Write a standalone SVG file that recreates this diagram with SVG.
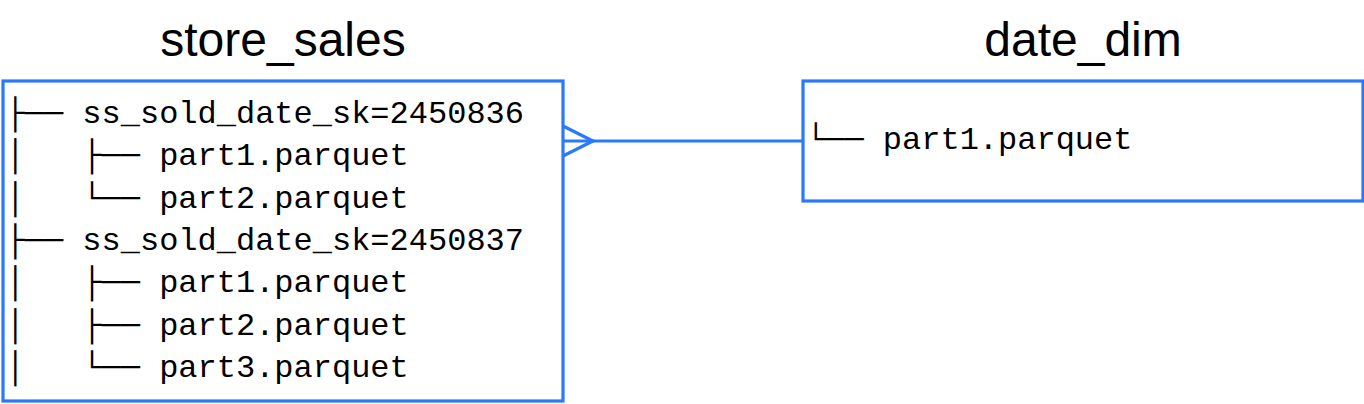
<svg xmlns="http://www.w3.org/2000/svg" width="1364" height="404" viewBox="0 0 1364 404">
<style>
.box{fill:#ffffff;stroke:#2979ff;stroke-width:3.2}
.title{font-family:"Liberation Sans",Arial,sans-serif;font-size:48px;fill:#000;text-anchor:middle}
.tree{font-family:"Liberation Mono","DejaVu Sans Mono",monospace;font-size:32px;fill:#000;white-space:pre}
.conn{fill:none;stroke:#2979ff;stroke-width:3.2}
</style>
<rect width="1364" height="404" fill="#ffffff"/>
<g id="store_sales">
<text class="title" x="283" y="56">store_sales</text>
<rect class="box" x="3" y="81" width="560" height="320"/>
<text class="tree" xml:space="preserve"><tspan x="5.5" y="123">├── ss_sold_date_sk=2450836</tspan><tspan x="5.5" y="165.3">│   ├── part1.parquet</tspan><tspan x="5.5" y="207.6">│   └── part2.parquet</tspan><tspan x="5.5" y="250">├── ss_sold_date_sk=2450837</tspan><tspan x="5.5" y="292.3">│   ├── part1.parquet</tspan><tspan x="5.5" y="334.6">│   ├── part2.parquet</tspan><tspan x="5.5" y="377">│   └── part3.parquet</tspan></text>
</g>
<g id="date_dim">
<text class="title" x="1083" y="56">date_dim</text>
<rect class="box" x="803" y="81" width="560" height="120"/>
<text class="tree" xml:space="preserve"><tspan x="806" y="149">└── part1.parquet</tspan></text>
</g>
<g id="connectors">
<path class="conn" d="M563 141H803"/>
<path class="conn" d="M563 126L593 141L563 156"/>
</g>
</svg>
